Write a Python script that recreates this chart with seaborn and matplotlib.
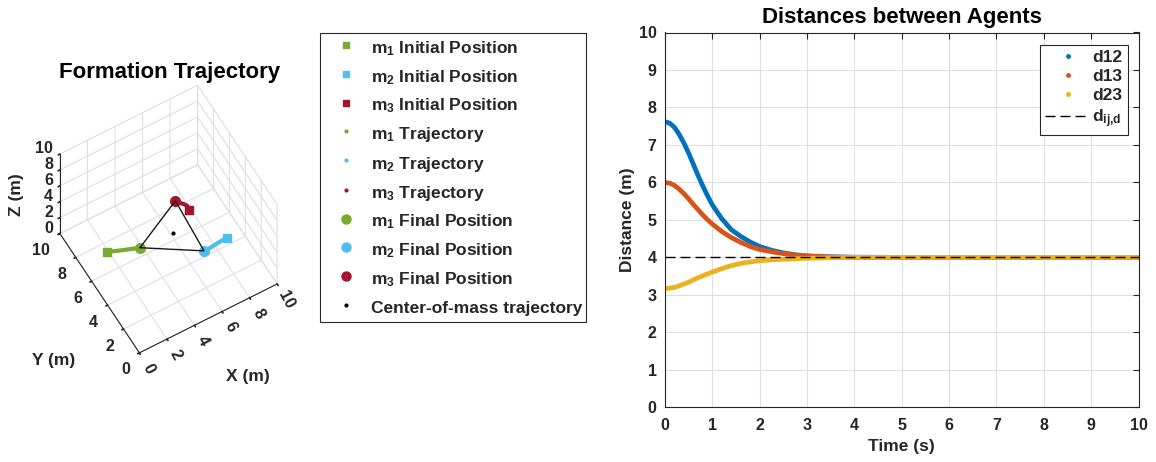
import numpy as np
import pandas as pd
import matplotlib
matplotlib.use("Agg")
import matplotlib.pyplot as plt
import seaborn as sns
from matplotlib.lines import Line2D
from mpl_toolkits.mplot3d import proj3d

# ---------------- data ----------------
agent_labels = ["m_1", "m_2", "m_3"]
agent_colors = ["#77AC30", "#4DBEEE", "#A2142F"]

# start / end positions of the three agents (m)
init_x = [1.88, 8.92, 7.92]
init_y = [7.38, 4.48, 7.43]
final_x = [3.85, 7.22, 7.48]
final_y = [6.59, 4.38, 8.43]
plane_z = 0.0

# trajectories in the xy plane
traj1_x = [1.88, 2.35, 2.85, 3.35, 3.85]
traj1_y = [7.38, 7.17, 6.97, 6.78, 6.59]
traj2_x = [8.92, 8.62, 8.32, 7.70, 7.22]
traj2_y = [4.48, 4.47, 4.45, 4.38, 4.38]
traj3_x = [7.92, 7.94, 7.82, 7.67, 7.48]
traj3_y = [7.43, 7.75, 7.95, 8.13, 8.43]

# centre of mass (stationary)
com_x = [6.20]
com_y = [6.47]

# inter-agent distances over time
time_s = [0, 0.1, 0.2, 0.3, 0.4, 0.5, 0.6, 0.7, 0.8, 0.9, 1.0,
          1.2, 1.4, 1.6, 1.8, 2.0, 2.25, 2.5, 2.75, 3.0, 3.5, 4.0,
          5, 6, 7, 8, 9, 10]
d12 = [7.62, 7.58, 7.47, 7.28, 7.05, 6.78, 6.48, 6.18, 5.90, 5.64, 5.40,
       5.03, 4.74, 4.56, 4.41, 4.29, 4.19, 4.12, 4.07, 4.04, 4.015, 4.005,
       4.0, 4.0, 4.0, 4.0, 4.0, 4.0]
d13 = [6.00, 5.98, 5.92, 5.82, 5.70, 5.56, 5.41, 5.27, 5.13, 5.00, 4.89,
       4.69, 4.53, 4.40, 4.29, 4.21, 4.15, 4.10, 4.06, 4.035, 4.01, 4.0,
       4.0, 4.0, 4.0, 4.0, 4.0, 4.0]
d23 = [3.17, 3.18, 3.20, 3.24, 3.29, 3.34, 3.40, 3.46, 3.51, 3.56, 3.61,
       3.70, 3.78, 3.84, 3.88, 3.91, 3.935, 3.95, 3.965, 3.975, 3.99, 4.0,
       4.0, 4.0, 4.0, 4.0, 4.0, 4.0]
d_desired = 4.0
pair_names = ["d12", "d13", "d23"]
pair_colors = ["#0072BD", "#D95319", "#EDB120"]

axis_ticks = [0, 2, 4, 6, 8, 10]

# ---------------- style ----------------
sns.set_theme(style="white")
plt.rcParams.update({
    "font.family": ["Liberation Sans", "DejaVu Sans"],
    "font.weight": "bold",
    "axes.labelweight": "bold",
    "axes.titleweight": "bold",
    "mathtext.fontset": "custom",
    "mathtext.rm": "Liberation Sans:bold",
    "mathtext.bf": "Liberation Sans:bold",
    "mathtext.it": "Liberation Sans:bold",
    "mathtext.default": "bf",
    "text.color": "#262626",
    "axes.labelcolor": "#262626",
    "xtick.color": "#262626",
    "ytick.color": "#262626",
    "axes.edgecolor": "#262626",
    "grid.color": "#dfdfdf",
    "grid.linewidth": 0.8,
})

W, H = 1156, 462
fig = plt.figure(figsize=(W / 100, H / 100), dpi=100)

# ---------------- right: distances ----------------
ax = fig.add_axes([665 / W, 1 - 407.3 / H, (1138.5 - 665) / W, (407.3 - 32.5) / H])
df = pd.DataFrame({
    "Time": time_s * 3,
    "Distance": d12 + d13 + d23,
    "Pair": [p for p in pair_names for _ in time_s],
})
sns.lineplot(data=df, x="Time", y="Distance", hue="Pair", hue_order=pair_names,
             palette=dict(zip(pair_names, pair_colors)), estimator=None,
             linewidth=3.4, legend=False, ax=ax)
ax.axhline(d_desired, color="black", lw=1.0, ls=(0, (7.2, 3.6)), zorder=5)
ax.set_xlim(0, 10)
ax.set_ylim(0, 10)
ax.set_xticks(range(0, 11))
ax.set_yticks(range(0, 11))
ax.grid(True, color="#dfdfdf", lw=0.8)
ax.tick_params(direction="in", length=4.5, width=0.8, labelsize=11.5,
               top=True, right=True, pad=6)
ax.tick_params(axis="x", pad=8)
for sp in ax.spines.values():
    sp.set_color("#262626")
    sp.set_linewidth(0.8)
ax.set_xlabel("Time (s)", fontsize=12.5, labelpad=4)
ax.set_ylabel("Distance (m)", fontsize=12.5, labelpad=3)
ax.set_title("Distances between Agents", fontsize=16, pad=7, color="black")

dist_handles = [Line2D([], [], ls="none", marker=".", ms=5, color=c) for c in pair_colors]
dist_handles.append(Line2D([], [], color="black", lw=1.0, ls=(0, (7.2, 3.6))))
leg_r = ax.legend(dist_handles, pair_names + [r"$d_{ij{,}d}$"], loc="upper left",
                  bbox_to_anchor=(1040 / W, 1 - 45 / H), bbox_transform=fig.transFigure,
                  borderaxespad=0, fontsize=12.5, frameon=True, fancybox=False,
                  framealpha=1, edgecolor="#262626", handlelength=2.6,
                  handletextpad=0.12, borderpad=0.3, labelspacing=0.22)
leg_r.get_frame().set_linewidth(0.8)

# ---------------- left: 3D formation ----------------
ax3 = fig.add_axes([0.0, 0.1, 0.28, 0.8], projection="3d", computed_zorder=False)
ax3.set_proj_type("ortho")
ax3.view_init(elev=60, azim=-120)
ax3.set_box_aspect((1, 1, 1))
ax3.set_xlim(0, 10)
ax3.set_ylim(0, 10)
ax3.set_zlim(0, 10)
ax3.set_xticks(axis_ticks)
ax3.set_yticks(axis_ticks)
ax3.set_zticks(axis_ticks)
for a in (ax3.xaxis, ax3.yaxis, ax3.zaxis):
    a.set_major_formatter(matplotlib.ticker.NullFormatter())
    a.set_tick_params(labelbottom=False, labelleft=False)
    a.label.set_visible(False)
    a.set_pane_color((1, 1, 1, 0))
    a.pane.set_edgecolor("#dfdfdf")
    a.line.set_color("#262626")
    a.line.set_linewidth(0.8)
    a._axinfo["grid"]["color"] = "#dfdfdf"
    a._axinfo["grid"]["linewidth"] = 0.8
    a._axinfo["tick"]["inward_factor"] = 0.15
    a._axinfo["tick"]["outward_factor"] = 0.0

trajs = [(traj1_x, traj1_y), (traj2_x, traj2_y), (traj3_x, traj3_y)]
for (tx, ty), c in zip(trajs, agent_colors):
    ax3.plot(tx, ty, [plane_z] * len(tx), color=c, lw=3.0, solid_capstyle="round", zorder=2)
for i, c in enumerate(agent_colors):
    ax3.plot([init_x[i]], [init_y[i]], [plane_z], ls="none", marker="s", ms=5.5,
             color=c, zorder=3)
    ax3.plot([final_x[i]], [final_y[i]], [plane_z], ls="none", marker="o", ms=7,
             color=c, zorder=3)
tri_x = final_x + [final_x[0]]
tri_y = final_y + [final_y[0]]
ax3.plot(tri_x, tri_y, [plane_z] * 4, color="#1a1a1a", lw=1.0, zorder=4)
ax3.plot(com_x, com_y, [plane_z], ls="none", marker=".", ms=4, color="black", zorder=4)

# fit the projected cube into its slot on the page
fig.canvas.draw()
M = ax3.get_proj()
pts = []
for cx in (0, 10):
    for cy in (0, 10):
        for cz in (0, 10):
            px, py, _ = proj3d.proj_transform(cx, cy, cz, M)
            pts.append(ax3.transData.transform((px, py)))
pts = np.array(pts)
bx0, by0 = pts.min(axis=0)
bx1, by1 = pts.max(axis=0)
tx0, tx1 = 60.0, 277.0
ty0, ty1 = H - 353.0, H - 85.0
s = 0.5 * ((tx1 - tx0) / (bx1 - bx0) + (ty1 - ty0) / (by1 - by0))
bb = ax3.get_position(original=False)
cx_ax, cy_ax = (bb.x0 + bb.x1) / 2 * W, (bb.y0 + bb.y1) / 2 * H
side = bb.width * W * s
bcx, bcy = (bx0 + bx1) / 2, (by0 + by1) / 2
ncx = (tx0 + tx1) / 2 - s * (bcx - cx_ax)
ncy = (ty0 + ty1) / 2 - s * (bcy - cy_ax)
ax3.set_position([(ncx - side / 2) / W, (ncy - side / 2) / H, side / W, side / H])
fig.canvas.draw()


def page_xy(x, y, z):
    """Figure-fraction position of a 3D data point in the final layout."""
    px, py, _ = proj3d.proj_transform(x, y, z, ax3.get_proj())
    dx, dy = ax3.transData.transform((px, py))
    return dx / W, dy / H


# tick labels next to the MATLAB-style axis edges
tick_kw = dict(fontsize=11.5, color="#262626", fontweight="bold")
for v in axis_ticks:
    fig.text(*page_xy(v - 0.1, -1.25, 0), str(v), ha="center", va="center",
             rotation=-62, **tick_kw)
    fig.text(*page_xy(-1.14, v - 0.77, 0), str(v), ha="right", va="center", **tick_kw)
    fig.text(*page_xy(-0.18, 10.56, v), str(v), ha="right", va="center", **tick_kw)

fig.text(170 / W, 1 - 78 / H, "Formation Trajectory", ha="center", va="baseline",
         fontsize=16, fontweight="bold", color="black")
fig.text(248 / W, 1 - 377 / H, "X (m)", ha="center", va="center", fontsize=12.5)
fig.text(54 / W, 1 - 361 / H, "Y (m)", ha="center", va="center", fontsize=12.5)
fig.text(17 / W, 1 - 195 / H, "Z (m)", ha="center", va="center", rotation=90, fontsize=12.5)

# ---------------- legend for the 3D view ----------------
leg_handles, leg_labels = [], []
for lab, c in zip(agent_labels, agent_colors):
    leg_handles.append(Line2D([], [], ls="none", marker="s", ms=5, color=c))
    leg_labels.append(rf"${lab}$ Initial Position")
for lab, c in zip(agent_labels, agent_colors):
    leg_handles.append(Line2D([], [], ls="none", marker=".", ms=4, color=c))
    leg_labels.append(rf"${lab}$ Trajectory")
for lab, c in zip(agent_labels, agent_colors):
    leg_handles.append(Line2D([], [], ls="none", marker="o", ms=6.5, color=c))
    leg_labels.append(rf"${lab}$ Final Position")
leg_handles.append(Line2D([], [], ls="none", marker=".", ms=4, color="black"))
leg_labels.append("Center-of-mass trajectory")
leg_l = fig.legend(leg_handles, leg_labels, loc="upper left",
                   bbox_to_anchor=(320 / W, 1 - 33 / H), borderaxespad=0,
                   fontsize=12.5, frameon=True, fancybox=False, framealpha=1,
                   edgecolor="#262626", handlelength=2.5, handleheight=1.45,
                   handletextpad=0.17, borderpad=0.24, labelspacing=0.46)
leg_l.get_frame().set_linewidth(0.8)

fig.savefig("out.png", dpi=100)
